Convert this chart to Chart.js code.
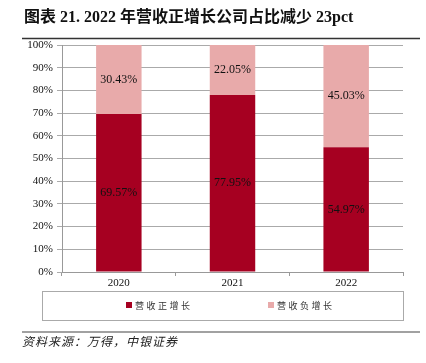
<!DOCTYPE html>
<html>
<head>
<meta charset="utf-8">
<script src="https://cdn.jsdelivr.net/npm/chart.js@4"></script>
<style>
html,body{margin:0;padding:0;background:#fff;}
#wrap{width:426px;height:363px;position:relative;}
</style>
</head>
<body>
<div id="wrap"><canvas id="c" width="426" height="363"></canvas></div>
<script>
const categories = ['2020', '2021', '2022'];
const positiveShare = [69.57, 77.95, 54.97];
const negativeShare = [30.43, 22.05, 45.03];
const seriesNames = ['营收正增长', '营收负增长'];
const yTicks = [0, 10, 20, 30, 40, 50, 60, 70, 80, 90, 100];
const titleText = '图表 21. 2022 年营收正增长公司占比减少 23pct';
const sourceText = '资料来源：万得，中银证券';

const SERIF = "'Liberation Serif', 'Times New Roman', 'Noto Sans CJK SC', serif";
const CJK = "'Noto Sans CJK SC', 'Liberation Serif', sans-serif";

const decorPlugin = {
  id: 'decor',
  afterDraw(chart) {
    const ctx = chart.ctx;
    ctx.save();
    // title
    ctx.fillStyle = '#111';
    ctx.font = "bold 16px " + SERIF;
    ctx.textBaseline = 'alphabetic';
    ctx.textAlign = 'left';
    ctx.fillText(titleText, 24, 22);
    // title underline
    ctx.strokeStyle = '#333';
    ctx.lineWidth = 1.5;
    ctx.beginPath(); ctx.moveTo(22, 38.5); ctx.lineTo(420, 38.5); ctx.stroke();
    // source line
    ctx.lineWidth = 1.2;
    ctx.strokeStyle = '#444';
    ctx.beginPath(); ctx.moveTo(22, 332); ctx.lineTo(420, 332); ctx.stroke();
    // source text
    ctx.fillStyle = '#222';
    ctx.font = "italic 12px " + CJK;
    if ('letterSpacing' in ctx) ctx.letterSpacing = '1px';
    ctx.fillText(sourceText, 22, 346);
    // legend box
    if ('letterSpacing' in ctx) ctx.letterSpacing = '0px';
    ctx.strokeStyle = '#aaa';
    ctx.lineWidth = 1;
    ctx.strokeRect(42.5, 291.5, 361, 29);
    // legend items
    const xs = [126, 268];
    ctx.font = "9px " + CJK;
    ctx.textBaseline = 'middle';
    if ('letterSpacing' in ctx) ctx.letterSpacing = '2.5px';
    chart.data.datasets.forEach((ds, i) => {
      ctx.fillStyle = ds.backgroundColor;
      ctx.fillRect(xs[i], 302, 6, 6);
      ctx.fillStyle = '#333';
      ctx.fillText(ds.label, xs[i] + 9, 305.5);
    });
    ctx.restore();
  }
};

const valueLabelPlugin = {
  id: 'valueLabels',
  afterDatasetsDraw(chart) {
    const ctx = chart.ctx;
    ctx.save();
    ctx.font = "12px " + SERIF;
    ctx.fillStyle = '#111';
    ctx.textAlign = 'center';
    ctx.textBaseline = 'middle';
    chart.data.datasets.forEach((ds, di) => {
      const meta = chart.getDatasetMeta(di);
      meta.data.forEach((bar, i) => {
        const p = bar.getProps(['x', 'y', 'base'], true);
        ctx.fillText(ds.data[i].toFixed(2) + '%', p.x, (p.y + p.base) / 2);
      });
    });
    ctx.restore();
  }
};

new Chart(document.getElementById('c'), {
  type: 'bar',
  data: {
    labels: categories,
    datasets: [
      { label: seriesNames[0], data: positiveShare, backgroundColor: '#A60021', borderWidth: 0 },
      { label: seriesNames[1], data: negativeShare, backgroundColor: '#E8AAAA', borderWidth: 0 }
    ]
  },
  options: {
    responsive: false,
    animation: false,
    devicePixelRatio: 1,
    layout: { padding: { top: 45, left: 0, right: 23, bottom: 71 } },
    plugins: { legend: { display: false }, tooltip: { enabled: false } },
    datasets: { bar: { categoryPercentage: 0.8, barPercentage: 0.5 } },
    scales: {
      x: {
        stacked: true,
        offset: true,
        grid: { display: true, drawOnChartArea: false, offset: true, tickLength: 4, color: '#999' },
        border: { color: '#999' },
        ticks: { color: '#111', font: { family: SERIF, size: 11 }, padding: 1, maxRotation: 0 },
        afterFit(s) { s.height = 20; }
      },
      y: {
        stacked: true,
        min: 0, max: 100,
        afterBuildTicks(s) { s.ticks = yTicks.map(v => ({ value: v })); },
        grid: { color: '#aaa', tickLength: 5 },
        border: { color: '#999' },
        ticks: { color: '#111', font: { family: SERIF, size: 11 }, padding: 4, callback: v => v + '%' },
        afterFit(s) { s.width = 62; }
      }
    }
  },
  plugins: [valueLabelPlugin, decorPlugin]
});
</script>
</body>
</html>
